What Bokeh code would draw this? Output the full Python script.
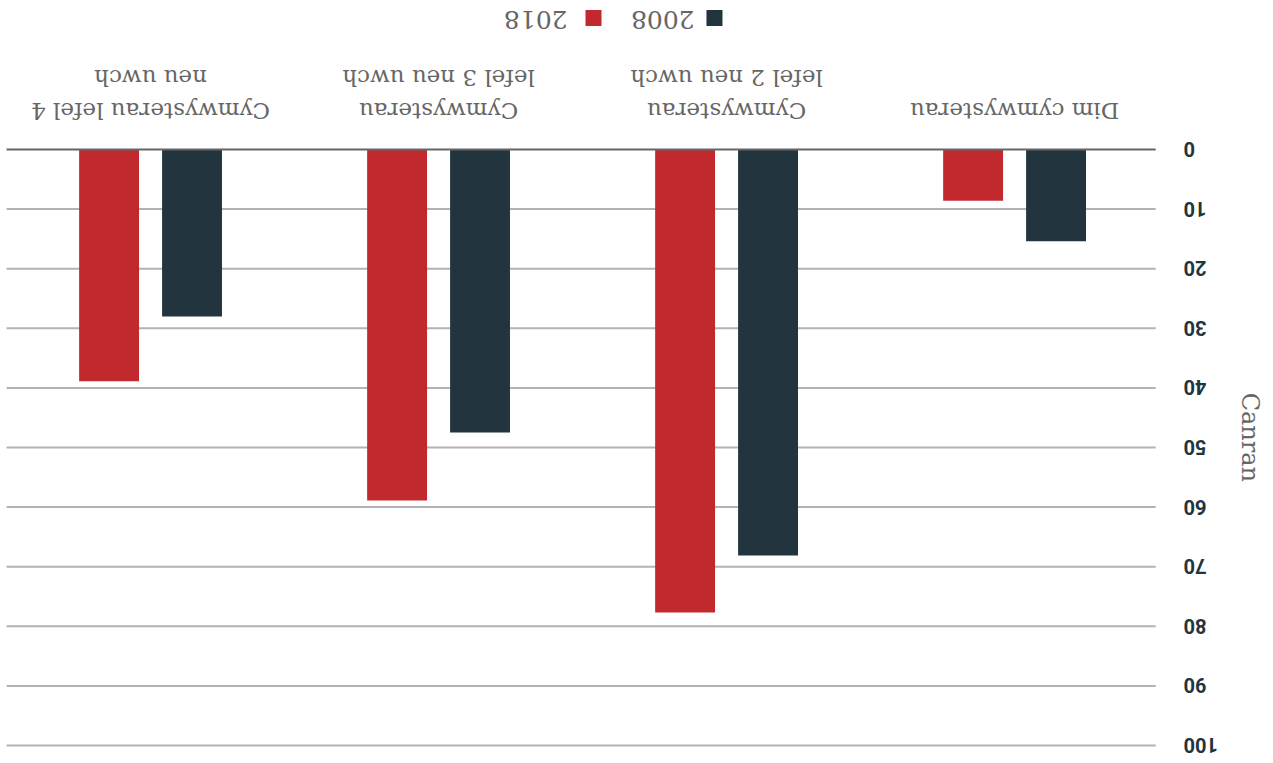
import numpy as np
from bokeh.plotting import figure
from bokeh.models import Range1d, ColumnDataSource
from bokeh.core.properties import value
from bokeh.embed import file_html
from bokeh.resources import INLINE

# ---- data ----
categories = ["Dim cymwysterau",
              "Cymwysterau\nlefel 2 neu uwch",
              "Cymwysterau\nlefel 3 neu uwch",
              "Cymwysterau lefel 4\nneu uwch"]
series_names = ["2008", "2018"]
values_2008 = [15.4, 68.1, 47.5, 28.0]
values_2018 = [8.6, 77.7, 58.9, 38.9]
y_ticks = [0, 10, 20, 30, 40, 50, 60, 70, 80, 90, 100]
y_axis_title = "Canran"
series_colors = ["#22353e", "#c1292e"]

PI = np.pi
idx = np.arange(len(categories))

# Whole chart is drawn rotated by 180 degrees (flipped ranges + rotated text)
p = figure(width=1273, height=763,
           x_range=Range1d(start=3.521, end=-0.899),
           y_range=Range1d(start=103.02, end=-25.0),
           x_axis_location=None, y_axis_location=None,
           toolbar_location=None, output_backend="svg",
           min_border=0)
p.outline_line_color = None
p.grid.visible = False
p.background_fill_color = "white"
p.border_fill_color = "white"

# grid lines
tick_arr = np.array(y_ticks, dtype=float)
grid_src = ColumnDataSource(dict(y=tick_arr[1:]))
p.segment(x0=-0.49, x1=3.5, y0="y", y1="y", source=grid_src,
          line_color="#b3b3b3", line_width=2)

# bars
offsets = [-0.144, 0.144]
for vals, name, col, off in zip([values_2008, values_2018], series_names,
                                series_colors, offsets):
    src = ColumnDataSource(dict(x=idx + off, top=vals))
    p.vbar(x="x", top="top", bottom=0, width=0.208, source=src,
           fill_color=col, line_color=None)

# baseline
p.segment(x0=[-0.49], x1=[3.5], y0=[y_ticks[0]], y1=[y_ticks[0]],
          line_color="#666666", line_width=2)

# tick labels
tl_src = ColumnDataSource(dict(y=tick_arr, t=[str(t) for t in y_ticks]))
p.text(x=-0.587, y="y", text="t", source=tl_src, angle=PI,
       text_align="right", text_baseline="middle",
       text_font=value("Roboto"), text_font_style="bold",
       text_font_size="20px", text_color="#22353e")

# axis title
p.text(x=[-0.816], y=[48.3], text=[y_axis_title], angle=-PI / 2,
       text_align="center", text_baseline="middle",
       text_font=value("DejaVu Serif"), text_font_size="24px",
       text_color="#666666")

# category labels
cat_src = ColumnDataSource(dict(x=idx, t=categories))
p.text(x="x", y=-4.2, text="t", source=cat_src, angle=PI,
       text_align="center", text_baseline="top",
       text_font=value("DejaVu Serif"), text_font_size="23px",
       text_line_height=1.3, text_color="#666666")

# legend
p.scatter(x=[1.042, 1.462], y=[-22.06, -22.06], marker="square", size=16,
          fill_color=series_colors, line_color=None)
p.text(x=[1.111, 1.552], y=[-21.8, -21.8], text=series_names, angle=PI,
       text_align="left", text_baseline="middle",
       text_font=value("DejaVu Serif"), text_font_size="25px",
       text_color="#666666")

open("out.html", "w").write(file_html(p, INLINE))
